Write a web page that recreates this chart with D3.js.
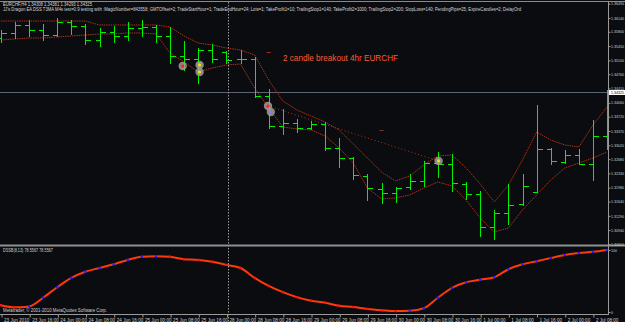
<!DOCTYPE html>
<html>
<head>
<meta charset="utf-8">
<script src="https://cdn.jsdelivr.net/npm/d3@7"></script>
<style>
  html, body { margin: 0; padding: 0; background: #0a0c0f; overflow: hidden; }
  svg { display: block; }
</style>
</head>
<body>
<div id="chart"></div>
<script>
// EURCHF H4 bars, 23 Jun 2010 08:00 .. 2 Jul 2010 12:00 (one entry per 4h bar)
const opens  = [1.35648,1.35771,1.35967,1.35844,1.35722,1.36040,1.35942,1.35599,1.35795,1.35697,1.35893,
                1.35918,1.35697,1.35207,1.35134,1.35354,1.35305,1.35134,1.35134,1.34227,1.33492,1.33566,
                1.33443,1.33541,1.32953,1.32708,1.32267,1.31949,1.31851,1.31998,1.32145,1.32585,1.32561,
                1.32071,1.31826,1.31018,1.31361,1.31581,1.31875,1.32928,1.32610,1.32781,1.32561,1.33247];
const highs  = [1.35844,1.36040,1.36089,1.35991,1.36138,1.36089,1.35991,1.35893,1.35942,1.36040,1.36089,
                1.35967,1.35918,1.35575,1.35403,1.35501,1.35330,1.35354,1.35183,1.34399,1.33909,1.33664,
                1.33615,1.33590,1.33198,1.32730,1.32316,1.32096,1.31998,1.32316,1.32635,1.32855,1.32806,
                1.32120,1.31900,1.31434,1.32071,1.32316,1.34007,1.32950,1.32904,1.32928,1.33639,1.34381];
const lows   = [1.35550,1.35648,1.35697,1.35599,1.35697,1.35746,1.35501,1.35452,1.35550,1.35599,1.35697,
                1.35550,1.35036,1.34864,1.34546,1.35060,1.35036,1.35036,1.34203,1.33443,1.33296,1.33345,
                1.33419,1.32904,1.32488,1.32194,1.31679,1.31606,1.31630,1.31949,1.32022,1.32243,1.31900,
                1.31704,1.30797,1.30724,1.31091,1.31557,1.31875,1.32561,1.32585,1.32561,1.32169,1.32928];
const closes = [1.35771,1.35967,1.35844,1.35722,1.36040,1.35942,1.35599,1.35795,1.35697,1.35893,1.35918,
                1.35697,1.35207,1.35134,1.35354,1.35134,1.35109,1.35134,1.34227,1.33492,1.33566,1.33443,
                1.33541,1.32953,1.32708,1.32292,1.31973,1.31851,1.31973,1.32145,1.32585,1.32561,1.32096,
                1.31826,1.31018,1.31361,1.31557,1.32022,1.32928,1.32635,1.32781,1.32561,1.33247,1.34325];

// envelope lines drawn by the EA
const upperBand = [1.36064,1.36064,1.36064,1.36064,1.36064,1.36064,1.36064,1.35967,1.35967,1.35967,1.35967,
                   1.35967,1.35918,1.35697,1.35526,1.35477,1.35403,1.35354,1.35232,1.34619,1.34105,1.33884,
                   1.33737,1.33590,1.33394,1.33051,1.32708,1.32365,1.32145,1.32267,1.32537,1.32757,1.32781,
                   1.32463,1.32071,1.31630,1.32047,1.32659,1.33345,1.33149,1.33027,1.32978,1.33517,1.33958];
const lowerBand = [1.35599,1.35624,1.35648,1.35648,1.35673,1.35697,1.35722,1.35746,1.35746,1.35771,1.35771,
                   1.35746,1.35281,1.35060,1.34815,1.34913,1.34987,1.35011,1.34423,1.33933,1.33468,1.33419,
                   1.33394,1.33247,1.32953,1.32585,1.31973,1.31704,1.31728,1.31802,1.31973,1.32120,1.32022,
                   1.31679,1.31238,1.30895,1.30993,1.31434,1.31802,1.32169,1.32463,1.32585,1.32708,1.32855];

// oscillator (0..100) per bar
const oscValues = [11,7.5,9,23,40,55,65,71,77,84,89,90,89,85,84,81,76,71,55,42,32,24,
                   18,15,10,8,5,3,1.5,2,6,23,39,48,52,56,69,77,82,87,92,95,97,100];

// trade arrows and the dotted open->close line
const tradeMarks = [
  { bar: 12.9, price: 1.34962, dot: "#ff2020" },
  { bar: 14.1, price: 1.34987, dot: "#e8e020" },
  { bar: 14.1, price: 1.34815, dot: "#e8e020" },
  { bar: 18.95, price: 1.33982, dot: "#ff2020" },
  { bar: 19.15, price: 1.33835, dot: "#8080ff" },
  { bar: 31.05, price: 1.32635, dot: "#e8e020" }
];
const tradeLine = [{ bar: 18.95, price: 1.33982 }, { bar: 31.05, price: 1.32635 }];

const priceTicks = [1.36490,1.36140,1.35800,1.35450,1.35100,1.34760,1.34410,1.34060,1.33720,
                    1.33370,1.33020,1.32680,1.32330,1.31980,1.31640,1.31290,1.30940,1.30600];
const dateLabels = ["23 Jun 2010","23 Jun 16:00","24 Jun 00:00","24 Jun 08:00","24 Jun 16:00",
                    "25 Jun 00:00","25 Jun 08:00","25 Jun 16:00","28 Jun 00:00","28 Jun 08:00",
                    "28 Jun 16:00","29 Jun 00:00","29 Jun 08:00","29 Jun 16:00","30 Jun 00:00",
                    "30 Jun 08:00","30 Jun 16:00","1 Jul 00:00","1 Jul 08:00","1 Jul 16:00",
                    "2 Jul 00:00","2 Jul 08:00"];
const lastPrice = 1.34325;

const W = 625, H = 322;
const axisX = 608.5;
const font = "Liberation Sans, Arial, sans-serif";

const svg = d3.select("#chart").append("svg")
  .attr("width", W).attr("height", H)
  .style("background", "#0a0c0f");

const x = d3.scaleLinear().domain([0, 43]).range([0.8, 607.1]);
const y = d3.scaleLinear().domain([1.30576, 1.36530]).range([245, 2]);
const yOsc = d3.scaleLinear().domain([0, 100]).range([312, 250]);
const px = i => Math.round(x(i)) + 0.5;
const py = p => Math.round(y(p)) + 0.5;

svg.append("clipPath").attr("id", "mainClip")
  .append("rect").attr("x", 0).attr("y", 2).attr("width", 608).attr("height", 242);
svg.append("clipPath").attr("id", "oscClip")
  .append("rect").attr("x", 0).attr("y", 247).attr("width", 608).attr("height", 67);

// frame
svg.append("line").attr("x1", 0).attr("x2", W).attr("y1", 1.5).attr("y2", 1.5)
  .attr("stroke", "#8a8a8a").attr("stroke-width", 1);
svg.append("line").attr("x1", 0).attr("x2", W).attr("y1", 245.5).attr("y2", 245.5)
  .attr("stroke", "#8f8f8f").attr("stroke-width", 2);

const main = svg.append("g").attr("clip-path", "url(#mainClip)");

// crosshair at last price
main.append("line").attr("x1", 0).attr("x2", axisX)
  .attr("y1", py(lastPrice)).attr("y2", py(lastPrice))
  .attr("stroke", "#5c6374").attr("stroke-width", 1);

// envelope lines
const bandLine = d3.line().x((d, i) => x(i)).y(d => y(d));
[upperBand, lowerBand].forEach(band => {
  main.append("path").datum(band)
    .attr("d", bandLine)
    .attr("fill", "none")
    .attr("stroke", "#a8301a")
    .attr("stroke-width", 1)
    .attr("stroke-dasharray", "1.5,0.8");
});

// dotted trade line
main.append("path").datum(tradeLine)
  .attr("d", d3.line().x(d => x(d.bar)).y(d => y(d.price)))
  .attr("fill", "none")
  .attr("stroke", "#b03418")
  .attr("stroke-width", 1)
  .attr("stroke-dasharray", "1,2.5");

// small order level dashes
main.append("line").attr("x1", x(19) - 2).attr("x2", x(19) + 2)
  .attr("y1", py(1.35305)).attr("y2", py(1.35305)).attr("stroke", "#a8301a");
main.append("line").attr("x1", x(27) - 2).attr("x2", x(27) + 2)
  .attr("y1", py(1.33394)).attr("y2", py(1.33394)).attr("stroke", "#7a3a28");

// OHLC bars
const bars = main.append("g").attr("stroke", "#00f000").attr("stroke-width", 1)
  .attr("shape-rendering", "crispEdges");
opens.forEach((o, i) => {
  const cx = px(i);
  const g = bars.append("g");
  g.append("line").attr("x1", cx).attr("x2", cx).attr("y1", py(highs[i]) - 0.5).attr("y2", py(lows[i]) + 0.5);
  g.append("line").attr("x1", cx - 5).attr("x2", cx).attr("y1", py(o)).attr("y2", py(o));
  g.append("line").attr("x1", cx).attr("x2", cx + 5).attr("y1", py(closes[i])).attr("y2", py(closes[i]));
});

// trade arrows
const marks = main.selectAll("g.mark").data(tradeMarks).enter().append("g").attr("class", "mark")
  .attr("transform", d => `translate(${x(d.bar)},${y(d.price)})`);
marks.append("circle").attr("r", 4.2).attr("fill", "#a49c96").attr("opacity", 0.85);
marks.append("circle").attr("r", 1.6).attr("fill", d => d.dot);

// chart caption
svg.append("text").attr("x", 283).attr("y", 61)
  .attr("font-family", font).attr("font-size", 8.2)
  .attr("fill", "#ff5a32")
  .attr("textLength", 115).attr("lengthAdjust", "spacingAndGlyphs")
  .text("2 candle breakout 4hr EURCHF");

// header
svg.append("text").attr("x", 3).attr("y", 6.2)
  .attr("font-family", font).attr("font-size", 4.6).attr("fill", "#d8d8d8")
  .attr("textLength", 89).attr("lengthAdjust", "spacingAndGlyphs")
  .text("EURCHF,H4  1.34308 1.34381 1.34293 1.34325");
svg.append("text").attr("x", 3).attr("y", 11.3)
  .attr("font-family", font).attr("font-size", 4.6).attr("fill", "#d8d8d8")
  .attr("textLength", 518).attr("lengthAdjust", "spacingAndGlyphs")
  .text("JJ's Dragon EA DSS T3MA M4s test=0.9 testing with :MagicNumber=843558; GMTOffset=2; TradeStartHour=1; TradeEndHour=24; Lots=1; TakeProfit1=10; TrailingStop1=140; TakeProfit2=1000; TrailingStop2=200; StopLoss=140; PendingPips=25; ExpireCandles=2; DelayOrd");

// oscillator panel
const osc = svg.append("g").attr("clip-path", "url(#oscClip)");
osc.append("path").datum(oscValues)
  .attr("d", d3.line().x((d, i) => x(i)).y(d => yOsc(d)).curve(d3.curveMonotoneX))
  .attr("fill", "none").attr("stroke", "#ff3a0a").attr("stroke-width", 2);
osc.selectAll("rect.dot").data(oscValues).enter().append("rect").attr("class", "dot")
  .attr("x", (d, i) => x(i) - 1.2).attr("y", d => yOsc(d) - 1.2)
  .attr("width", 2.4).attr("height", 2.4)
  .attr("fill", (d, i) => i > 0 && d > oscValues[i - 1] ? "#2020ff" : "#ff1010");

svg.append("text").attr("x", 3).attr("y", 252)
  .attr("font-family", font).attr("font-size", 4.6).attr("fill", "#d0d0d0")
  .attr("textLength", 50).attr("lengthAdjust", "spacingAndGlyphs")
  .text("DSSB(8,13) 78.5567 78.5567");
svg.append("text").attr("x", 3).attr("y", 312)
  .attr("font-family", font).attr("font-size", 4.6).attr("fill", "#d0d0d0")
  .attr("textLength", 104).attr("lengthAdjust", "spacingAndGlyphs")
  .text("Metatrader, \u00a9 2001-2010 MetaQuotes Software Corp.");

// vertical separator (period marker)
svg.append("line").attr("x1", 228.5).attr("x2", 228.5).attr("y1", 2).attr("y2", H)
  .attr("stroke", "#9a9a9a").attr("stroke-width", 1).attr("stroke-dasharray", "1.5,1.5");

// price axis
const priceAxis = svg.append("g").attr("transform", `translate(${axisX},0)`)
  .call(d3.axisRight(y).tickValues(priceTicks).tickSize(2).tickPadding(0.5)
    .tickFormat(d => d.toFixed(5)));
priceAxis.select(".domain").remove();
priceAxis.selectAll("line").attr("stroke", "#9a9a9a");
priceAxis.selectAll("text").attr("fill", "#d0d0d0").attr("font-family", font).attr("font-size", 3.6);

const oscAxis = svg.append("g").attr("transform", `translate(${axisX},0)`)
  .call(d3.axisRight(yOsc).tickValues([0, 100]).tickSize(2).tickPadding(0.5));
oscAxis.select(".domain").remove();
oscAxis.selectAll("line").attr("stroke", "#9a9a9a");
oscAxis.selectAll("text").attr("fill", "#d0d0d0").attr("font-family", font).attr("font-size", 3.6);

svg.append("line").attr("x1", axisX).attr("x2", axisX).attr("y1", 1).attr("y2", 315)
  .attr("stroke", "#9a9a9a").attr("stroke-width", 1);

// last price label
svg.append("rect").attr("x", 609).attr("y", y(lastPrice) - 2).attr("width", 16).attr("height", 5)
  .attr("fill", "#ffffff");
svg.append("text").attr("x", 611).attr("y", y(lastPrice) + 1.8)
  .attr("font-family", font).attr("font-size", 3.6).attr("fill", "#000")
  .text(lastPrice.toFixed(5));

// time axis
const labelBars = dateLabels.map((d, i) => i * 2);
const timeAxis = svg.append("g").attr("transform", "translate(0,314.5)")
  .call(d3.axisBottom(d3.scaleLinear().domain([0, 43]).range([px(0), px(43)]))
    .tickValues(labelBars).tickSize(3).tickPadding(0)
    .tickFormat((d, i) => dateLabels[i]));
timeAxis.select(".domain").remove();
timeAxis.selectAll("line").attr("stroke", "#9a9a9a");
timeAxis.selectAll("text").attr("fill", "#d0d0d0").attr("font-family", font).attr("font-size", 4.6)
  .attr("text-anchor", "start").attr("dx", 2).attr("dy", "0.9em");
svg.append("line").attr("x1", 0).attr("x2", axisX).attr("y1", 314.5).attr("y2", 314.5)
  .attr("stroke", "#9a9a9a").attr("stroke-width", 1);
</script>
</body>
</html>
